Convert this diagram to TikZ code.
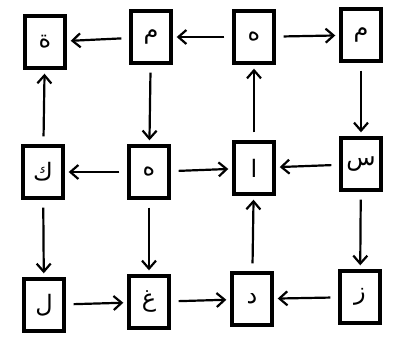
\documentclass[tikz,border=0pt]{standalone}
\usepackage{fontspec}
\usepackage{tikz}
\usetikzlibrary{arrows.meta}
\TeXXeTstate=1
\newfontfamily\arabicfont[Script=Arabic]{DejaVu Sans}
\tikzset{
  % letter box
  lbox/.style={rectangle,draw=black,line width=3.4pt,fill=white,
    minimum width=40pt,minimum height=52pt,inner sep=0pt,
    font=\arabicfont\fontsize{24}{24}\selectfont},
  % arrows
  arr/.style={-{Straight Barb[length=8pt,width=14pt]},line width=2.2pt,black,
    shorten >=4pt,shorten <=8pt},
}
\newcommand{\ar}[1]{\beginR #1\endR}

\begin{document}
\begin{tikzpicture}[x=1pt,y=-1pt]
  \useasboundingbox[fill=white] (0,0) rectangle (393,338);
  % top row
  \node[lbox] (ta)   at (45,42)  {\ar{ة}};
  \node[lbox] (mimA) at (151,37) {\ar{م}};
  \node[lbox] (ha)   at (254,37) {\ar{ه}};
  \node[lbox] (mimB) at (361,35) {\ar{م}};
  % middle row
  \node[lbox] (kaf)  at (43,172)  {\ar{ك}};
  \node[lbox] (hb)   at (149,172) {\ar{ه}};
  \node[lbox] (alif) at (254,168) {\ar{ا}};
  \node[lbox] (sin)  at (361,164) {\ar{س}};
  % bottom row
  \node[lbox] (lam)  at (44,305)  {\ar{ل}};
  \node[lbox] (ghay) at (149,302) {\ar{غ}};
  \node[lbox] (dal)  at (252,299) {\ar{د}};
  \node[lbox] (zay)  at (360,297) {\ar{ز}};

  \draw[arr] (mimA) -- (ta);
  \draw[arr] (ha) -- (mimA);
  \draw[arr] (ha) -- (mimB);
  \draw[arr] (kaf) -- (ta);
  \draw[arr] (mimA) -- (hb);
  \draw[arr] (alif) -- (ha);
  \draw[arr] (mimB) -- (sin);
  \draw[arr] (hb) -- (kaf);
  \draw[arr] (hb) -- (alif);
  \draw[arr] (sin) -- (alif);
  \draw[arr] (kaf) -- (lam);
  \draw[arr] (hb) -- (ghay);
  \draw[arr] (dal) -- (alif);
  \draw[arr] (sin) -- (zay);
  \draw[arr] (lam) -- (ghay);
  \draw[arr] (ghay) -- (dal);
  \draw[arr] (zay) -- (dal);
\end{tikzpicture}
\end{document}
